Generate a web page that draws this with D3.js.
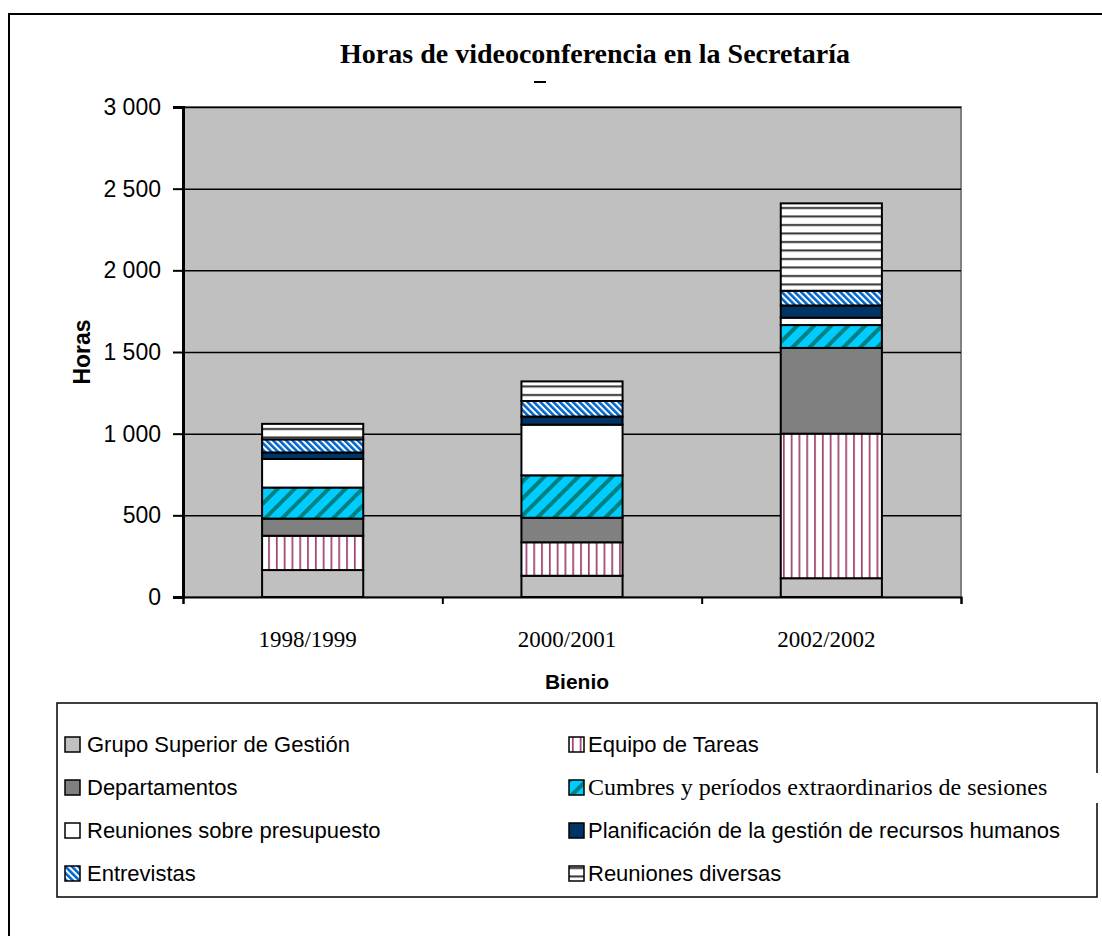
<!DOCTYPE html>
<html lang="es">
<head>
<meta charset="UTF-8">
<title>Horas de videoconferencia en la Secretaría</title>
<style>
    body { margin: 0; background: #fff; }
    svg { display: block; }
    .sans { font-family: "Liberation Sans", Arial, sans-serif; }
    .serif { font-family: "Liberation Serif", "Times New Roman", serif; }
</style>
</head>
<body>
<svg id="chart" width="1102" height="936"></svg>
<script src="https://d3js.org/d3.v7.min.js"></script>
<script>
    // categories (bienios)
    const bienios = ["1998/1999", "2000/2001", "2002/2002"];

    // series, stacked from bottom to top, in hours
    const grupoSuperior   = [165, 130, 115];
    const equipoTareas    = [210, 205, 885];
    const departamentos   = [105, 150, 525];
    const cumbres         = [190, 260, 140];
    const presupuesto     = [175, 310, 45];
    const planificacion   = [40, 50, 75];
    const entrevistas     = [80, 95, 90];
    const diversas        = [95, 120, 535];

    const seriesNames = [
        "Grupo Superior de Gestión",
        "Equipo de Tareas",
        "Departamentos",
        "Cumbres y períodos extraordinarios de sesiones",
        "Reuniones sobre presupuesto",
        "Planificación de la gestión de recursos humanos",
        "Entrevistas",
        "Reuniones diversas"
    ];
    const seriesValues = [grupoSuperior, equipoTareas, departamentos, cumbres,
                          presupuesto, planificacion, entrevistas, diversas];

    const yTicks = [0, 500, 1000, 1500, 2000, 2500, 3000];
    const yTickLabels = ["0", "500", "1 000", "1 500", "2 000", "2 500", "3 000"];

    const svg = d3.select("#chart");
    const plot = { left: 183, right: 961, top: 107, bottom: 597 };

    // fills / patterns
    const defs = svg.append("defs");

    const pEquipo = defs.append("pattern").attr("id", "p-equipo")
        .attr("patternUnits", "userSpaceOnUse").attr("width", 7.8).attr("height", 10);
    pEquipo.append("rect").attr("width", 7.8).attr("height", 10).attr("fill", "#fff");
    pEquipo.append("rect").attr("x", 3).attr("width", 1.6).attr("height", 10).attr("fill", "#993366");

    const pCumbres = defs.append("pattern").attr("id", "p-cumbres")
        .attr("patternUnits", "userSpaceOnUse").attr("width", 12).attr("height", 12)
        .attr("patternTransform", "rotate(45)");
    pCumbres.append("rect").attr("width", 12).attr("height", 12).attr("fill", "#00ccff");
    pCumbres.append("rect").attr("x", 0).attr("width", 4).attr("height", 12).attr("fill", "#008080");

    const pEntrev = defs.append("pattern").attr("id", "p-entrevistas")
        .attr("patternUnits", "userSpaceOnUse").attr("width", 4.6).attr("height", 10)
        .attr("patternTransform", "rotate(-45)");
    pEntrev.append("rect").attr("width", 4.6).attr("height", 10).attr("fill", "#fff");
    pEntrev.append("rect").attr("width", 2.6).attr("height", 10).attr("fill", "#0066cc");

    const pDiversas = defs.append("pattern").attr("id", "p-diversas")
        .attr("patternUnits", "userSpaceOnUse").attr("width", 10).attr("height", 8.5);
    pDiversas.append("rect").attr("width", 10).attr("height", 8.5).attr("fill", "#fff");
    pDiversas.append("rect").attr("y", 3).attr("width", 10).attr("height", 2).attr("fill", "#333");

    const fills = ["#c0c0c0", "url(#p-equipo)", "#808080", "url(#p-cumbres)",
                   "#ffffff", "#003366", "url(#p-entrevistas)", "url(#p-diversas)"];

    // outer frame (only top and left are visible)
    svg.append("path").attr("d", "M9,936 V14 H1102")
        .attr("fill", "none").attr("stroke", "#000").attr("stroke-width", 2);

    // title
    svg.append("text").attr("class", "serif")
        .attr("x", 595).attr("y", 63).attr("text-anchor", "middle")
        .style("font-size", "28px").style("font-weight", "bold")
        .text("Horas de videoconferencia en la Secretaría");
    svg.append("line").attr("x1", 534).attr("x2", 546).attr("y1", 82).attr("y2", 82)
        .attr("stroke", "#000").attr("stroke-width", 2);

    // scales
    const x = d3.scaleBand().domain(bienios)
        .range([plot.left, plot.right]).paddingInner(0.61).paddingOuter(0.305);
    const xEdge = d3.scaleLinear().domain([0, bienios.length]).range([plot.left, plot.right]);
    const y = d3.scaleLinear().domain([0, 3000]).range([plot.bottom, plot.top]);

    // plot background
    svg.append("rect")
        .attr("x", plot.left).attr("y", plot.top)
        .attr("width", plot.right - plot.left).attr("height", plot.bottom - plot.top)
        .attr("fill", "#c0c0c0").attr("stroke", "#808080").attr("stroke-width", 2);

    // gridlines
    svg.append("g")
        .attr("transform", `translate(${plot.left},0)`)
        .call(d3.axisLeft(y).tickValues(yTicks.slice(1)).tickSize(-(plot.right - plot.left)).tickFormat(""))
        .call(g => g.select(".domain").remove())
        .call(g => g.selectAll("line").attr("stroke", "#000").attr("stroke-width", 1.5));

    // stacked bars
    const rows = bienios.map((b, i) => {
        const r = { bienio: b };
        seriesNames.forEach((s, j) => r[s] = seriesValues[j][i]);
        return r;
    });
    const stacked = d3.stack().keys(seriesNames)(rows);

    svg.append("g").selectAll("g")
        .data(stacked)
        .join("g")
        .attr("fill", (d, i) => fills[i])
        .selectAll("rect")
        .data(d => d)
        .join("rect")
        .attr("x", d => x(d.data.bienio))
        .attr("y", d => y(d[1]))
        .attr("width", x.bandwidth())
        .attr("height", d => y(d[0]) - y(d[1]))
        .attr("stroke", "#000")
        .attr("stroke-width", 2);

    // y axis
    svg.append("g")
        .attr("transform", `translate(${plot.left},0)`)
        .call(d3.axisLeft(y).tickValues(yTicks).tickSize(10).tickPadding(12)
            .tickFormat((d, i) => yTickLabels[i]))
        .call(g => g.select(".domain").attr("stroke-width", 3))
        .call(g => g.selectAll("line").attr("stroke-width", 2))
        .call(g => g.selectAll("text").attr("class", "sans").style("font-size", "23px").attr("fill", "#000"));

    // x axis: ticks at category edges, labels under the bars
    svg.append("g")
        .attr("transform", `translate(0,${plot.bottom})`)
        .call(d3.axisBottom(xEdge).tickValues(d3.range(bienios.length + 1)).tickSize(7).tickFormat(""))
        .call(g => g.select(".domain").attr("stroke-width", 2))
        .call(g => g.selectAll("line").attr("stroke-width", 2));

    svg.append("g")
        .attr("transform", `translate(-5,${plot.bottom})`)
        .call(d3.axisBottom(x).tickSize(0).tickPadding(34))
        .call(g => g.select(".domain").remove())
        .call(g => g.selectAll("text").attr("class", "serif").style("font-size", "23px").attr("fill", "#000"));

    // axis titles
    svg.append("text").attr("class", "sans")
        .attr("transform", "translate(90,352) rotate(-90)")
        .attr("text-anchor", "middle")
        .style("font-size", "23px").style("font-weight", "bold")
        .text("Horas");
    svg.append("text").attr("class", "sans")
        .attr("x", 577).attr("y", 689).attr("text-anchor", "middle")
        .style("font-size", "21px").style("font-weight", "bold")
        .text("Bienio");

    // legend
    const legend = svg.append("g");
    legend.append("rect")
        .attr("x", 57).attr("y", 703).attr("width", 1097 - 57).attr("height", 897 - 703)
        .attr("fill", "#fff").attr("stroke", "#000").attr("stroke-width", 1.5);

    const colX = [65, 569];
    const rowY = [752, 795, 838, 881];
    const items = legend.selectAll("g.item")
        .data(seriesNames)
        .join("g")
        .attr("class", "item")
        .attr("transform", (d, i) => `translate(${colX[i % 2]},${rowY[Math.floor(i / 2)]})`);

    // the serif label sits on its own white box that covers the frame
    items.filter(d => d.startsWith("Cumbres"))
        .append("rect")
        .attr("x", 18).attr("y", -22).attr("width", 1102 - 569 - 18).attr("height", 30)
        .attr("fill", "#fff");

    items.append("rect")
        .attr("x", 0).attr("y", -15).attr("width", 15).attr("height", 15)
        .attr("fill", (d, i) => fills[i]).attr("stroke", "#000").attr("stroke-width", 1.5);

    items.append("text")
        .attr("x", (d, i) => i % 2 ? 19 : 22).attr("y", 0)
        .attr("class", d => d.startsWith("Cumbres") ? "serif" : "sans")
        .style("font-size", d => d.startsWith("Cumbres") ? "24px" : "22px")
        .text(d => d);
</script>
</body>
</html>
